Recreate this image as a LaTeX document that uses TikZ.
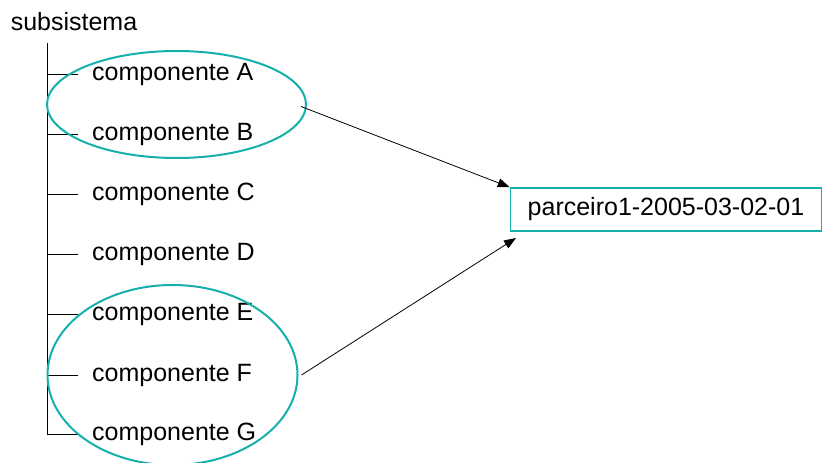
\documentclass[tikz,border=0pt]{standalone}
\usepackage{fontspec}
\setmainfont{Liberation Sans}
\usetikzlibrary{shapes.geometric,arrows.meta}
\definecolor{tealline}{RGB}{22,176,172}
\begin{document}
\begin{tikzpicture}[x=1pt,y=-1pt,
  txt/.style={font=\fontsize{25}{30}\selectfont, inner sep=0pt},
  comp/.style={txt, anchor=west, inner xsep=14pt},
  ring/.style={draw=tealline, line width=2pt, ellipse, inner sep=0pt},
  link/.style={line width=0.8pt},
  arr/.style={line width=0.8pt, -{Triangle[length=12pt,width=9pt]}}]
\useasboundingbox (0,0) rectangle (823,463);
\node[txt] (sub) at (74,22) {subsistema};
\coordinate (top) at (47,43);
\coordinate (bot) at (47,434);
\draw[link] (top) -- (bot);
\foreach \n/\y in {A/74,B/134,C/194,D/254,E/314,F/375,G/434}{
  \node[comp] (c\n) at (78,\y) {componente \n};
  \coordinate (t\n) at (47,\y);
  \draw[link] (t\n) -- (c\n.west);
}
\node[ring, minimum width=259pt, minimum height=107pt] (e1) at (176.5,104.5) {};
\node[ring, minimum width=250pt, minimum height=180pt] (e2) at (172.5,375) {};
\node[txt, draw=tealline, line width=1.5pt, minimum width=311pt, minimum height=43pt] (box) at (666,209.5) {parceiro1-2005-03-02-01};
\coordinate (a2) at (516,238);
\draw[arr] ([xshift=-6pt,yshift=-2pt]e1.east) -- (box.north west);
\draw[arr] ([xshift=3pt]e2.east) -- (a2);
\end{tikzpicture}
\end{document}
